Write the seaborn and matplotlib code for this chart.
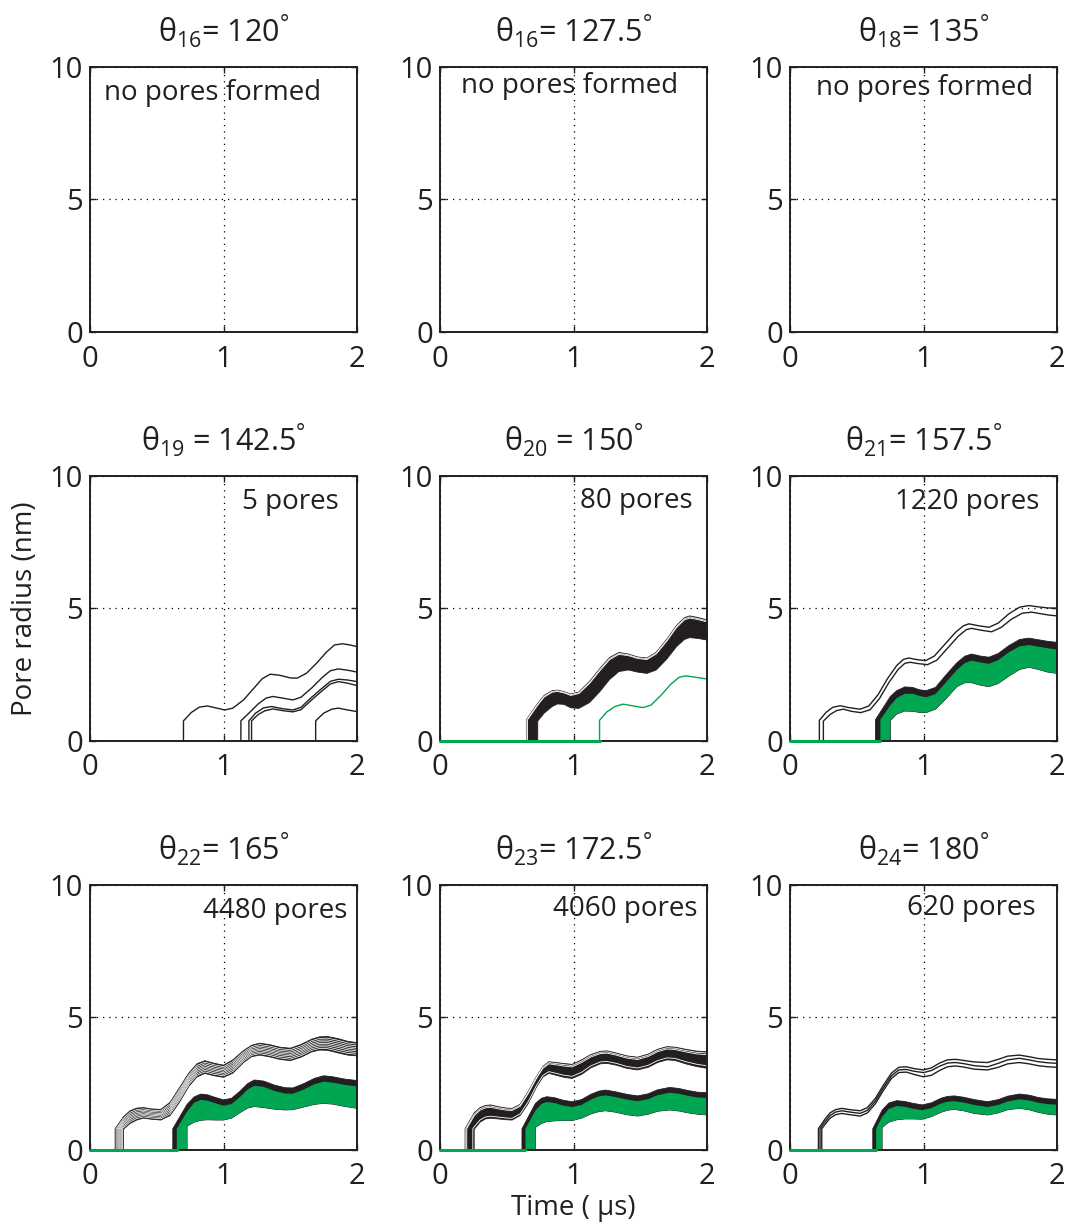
import matplotlib
matplotlib.use("Agg")
import matplotlib.pyplot as plt
import seaborn as sns

# ---- panel labels ----
theta_index = ["16", "16", "18", "19", "20", "21", "22", "23", "24"]
theta_deg = ["120", "127.5", "135", "142.5", "150", "157.5", "165", "172.5", "180"]
theta_gap = ["", "", "", " ", " ", "", "", "", ""]
pore_text = ["no pores formed", "no pores formed", "no pores formed",
             "5 pores", "80 pores", "1220 pores",
             "4480 pores", "4060 pores", "620 pores"]

# radius right after a pore opens (nm)
jump_r = 0.8

# ---- theta_19: five single pores (t starts at the opening time) ----
p19_lines = [
    ([0.70, 0.76, 0.82, 0.88, 0.95, 1.01, 1.07, 1.15, 1.22, 1.29, 1.35, 1.42, 1.50, 1.55, 1.62, 1.70, 1.77, 1.83, 1.89, 1.95, 2.0],
     [0.76, 1.08, 1.28, 1.32, 1.24, 1.17, 1.24, 1.55, 1.95, 2.35, 2.52, 2.48, 2.38, 2.37, 2.55, 2.95, 3.35, 3.62, 3.67, 3.62, 3.56]),
    ([1.13, 1.19, 1.26, 1.32, 1.37, 1.44, 1.52, 1.58, 1.66, 1.74, 1.80, 1.86, 1.93, 2.0],
     [0.76, 1.05, 1.40, 1.62, 1.68, 1.62, 1.55, 1.65, 2.00, 2.40, 2.65, 2.72, 2.67, 2.60]),
    ([1.19, 1.24, 1.30, 1.36, 1.44, 1.52, 1.58, 1.66, 1.74, 1.80, 1.86, 1.93, 2.0],
     [0.76, 1.05, 1.25, 1.30, 1.22, 1.17, 1.27, 1.65, 2.00, 2.25, 2.33, 2.30, 2.24]),
    ([1.21, 1.26, 1.31, 1.37, 1.45, 1.52, 1.58, 1.66, 1.74, 1.80, 1.86, 1.93, 2.0],
     [0.76, 1.00, 1.14, 1.21, 1.14, 1.10, 1.18, 1.55, 1.90, 2.15, 2.24, 2.18, 2.09]),
    ([1.69, 1.75, 1.81, 1.86, 1.93, 2.0],
     [0.76, 1.05, 1.20, 1.24, 1.17, 1.11]),
]

# ---- theta_20 ----
p20_band = dict(t0_top=0.647, t0_bot=0.732,
                t=[0.732, 0.78, 0.84, 0.88, 0.93, 0.98, 1.04, 1.12, 1.20, 1.27, 1.34, 1.41, 1.48, 1.55, 1.62, 1.70, 1.77, 1.83, 1.87, 1.93, 2.0],
                top=[1.42, 1.72, 1.90, 1.92, 1.86, 1.77, 1.85, 2.25, 2.75, 3.15, 3.34, 3.28, 3.17, 3.13, 3.35, 3.85, 4.35, 4.65, 4.72, 4.66, 4.57],
                bot=[0.75, 1.05, 1.30, 1.40, 1.38, 1.25, 1.23, 1.45, 1.88, 2.32, 2.62, 2.68, 2.60, 2.55, 2.68, 3.10, 3.55, 3.83, 3.90, 3.87, 3.81])
p20_green = ([1.195, 1.25, 1.31, 1.37, 1.44, 1.52, 1.58, 1.66, 1.73, 1.79, 1.84, 1.92, 2.0],
             [0.78, 1.10, 1.30, 1.39, 1.33, 1.26, 1.35, 1.75, 2.15, 2.40, 2.46, 2.40, 2.34])

# ---- theta_21 ----
p21_lines = [
    ([0.22, 0.27, 0.32, 0.376, 0.44, 0.526, 0.59, 0.66, 0.73, 0.80, 0.85, 0.89, 0.95, 1.015, 1.08, 1.16, 1.24, 1.30, 1.34, 1.41, 1.49, 1.56, 1.64, 1.72, 1.79, 1.86, 1.93, 2.0],
     [0.78, 1.08, 1.27, 1.33, 1.26, 1.20, 1.32, 1.75, 2.35, 2.85, 3.08, 3.13, 3.07, 3.03, 3.20, 3.65, 4.10, 4.35, 4.42, 4.35, 4.29, 4.45, 4.80, 5.05, 5.11, 5.06, 5.02, 5.01]),
    ([0.25, 0.30, 0.35, 0.40, 0.46, 0.53, 0.60, 0.67, 0.74, 0.81, 0.86, 0.90, 0.96, 1.03, 1.10, 1.18, 1.26, 1.32, 1.36, 1.43, 1.51, 1.58, 1.66, 1.74, 1.81, 1.88, 1.94, 2.0],
     [0.75, 1.00, 1.15, 1.20, 1.12, 1.07, 1.18, 1.60, 2.20, 2.70, 2.93, 2.97, 2.92, 2.88, 3.05, 3.50, 3.95, 4.20, 4.25, 4.18, 4.12, 4.28, 4.60, 4.82, 4.86, 4.80, 4.75, 4.72]),
]
p21_band = dict(t0_black=0.64, t0_green=0.677,
                t=[0.752, 0.80, 0.86, 0.92, 0.97, 1.02, 1.09, 1.17, 1.25, 1.31, 1.36, 1.43, 1.49, 1.56, 1.64, 1.72, 1.79, 1.86, 1.93, 2.0],
                black=[1.68, 1.90, 2.04, 2.02, 1.93, 1.90, 2.02, 2.50, 2.95, 3.20, 3.28, 3.20, 3.16, 3.30, 3.60, 3.83, 3.88, 3.82, 3.76, 3.72],
                gtop=[1.35, 1.62, 1.78, 1.78, 1.70, 1.65, 1.77, 2.22, 2.68, 2.94, 3.03, 2.96, 2.91, 3.05, 3.35, 3.57, 3.62, 3.56, 3.50, 3.45],
                gbot=[0.78, 1.02, 1.13, 1.12, 1.08, 1.07, 1.20, 1.60, 2.05, 2.20, 2.20, 2.10, 2.05, 2.17, 2.45, 2.70, 2.78, 2.70, 2.60, 2.55])

# ---- theta_22 ----
p22_band = dict(t0_top=0.188, t0_bot=0.25,
                t=[0.25, 0.30, 0.35, 0.40, 0.46, 0.53, 0.60, 0.67, 0.74, 0.80, 0.86, 0.93, 1.0, 1.07, 1.15, 1.21, 1.27, 1.34, 1.42, 1.50, 1.58, 1.66, 1.72, 1.78, 1.86, 1.93, 2.0],
                top=[1.25, 1.48, 1.58, 1.60, 1.55, 1.53, 1.80, 2.35, 2.90, 3.25, 3.37, 3.27, 3.20, 3.40, 3.75, 3.95, 4.03, 3.98, 3.88, 3.84, 3.98, 4.18, 4.27, 4.28, 4.20, 4.10, 4.05],
                bot=[0.78, 1.00, 1.13, 1.20, 1.16, 1.13, 1.30, 1.80, 2.40, 2.75, 2.89, 2.80, 2.74, 2.90, 3.30, 3.52, 3.58, 3.52, 3.42, 3.37, 3.50, 3.70, 3.77, 3.76, 3.66, 3.58, 3.55])
p22_gband = dict(t0_black=0.62, t0_green=0.65,
                 t=[0.727, 0.78, 0.83, 0.88, 0.94, 1.0, 1.06, 1.12, 1.18, 1.23, 1.30, 1.38, 1.46, 1.52, 1.60, 1.68, 1.75, 1.82, 1.90, 2.0],
                 black=[1.72, 2.00, 2.11, 2.08, 1.98, 1.89, 1.95, 2.20, 2.50, 2.64, 2.60, 2.45, 2.35, 2.34, 2.50, 2.70, 2.80, 2.76, 2.68, 2.62],
                 gtop=[1.45, 1.78, 1.89, 1.86, 1.76, 1.67, 1.73, 1.98, 2.28, 2.42, 2.38, 2.23, 2.13, 2.12, 2.28, 2.48, 2.58, 2.54, 2.46, 2.40],
                 gbot=[0.90, 1.05, 1.12, 1.14, 1.13, 1.13, 1.20, 1.40, 1.58, 1.64, 1.60, 1.54, 1.51, 1.52, 1.62, 1.72, 1.76, 1.73, 1.65, 1.57])

# ---- theta_23 ----
p23_band = dict(t0_top=0.188, t0_bot=0.256,
                t=[0.256, 0.30, 0.34, 0.38, 0.44, 0.50, 0.54, 0.60, 0.66, 0.72, 0.77, 0.815, 0.87, 0.93, 0.99, 1.06, 1.13, 1.20, 1.25, 1.32, 1.40, 1.48, 1.56, 1.63, 1.70, 1.76, 1.84, 1.92, 2.0],
                top=[1.40, 1.60, 1.68, 1.70, 1.63, 1.58, 1.57, 1.72, 2.20, 2.75, 3.15, 3.33, 3.30, 3.26, 3.23, 3.40, 3.60, 3.72, 3.74, 3.66, 3.55, 3.50, 3.62, 3.80, 3.90, 3.88, 3.80, 3.73, 3.71],
                bot=[0.78, 1.05, 1.17, 1.20, 1.17, 1.14, 1.13, 1.30, 1.75, 2.35, 2.75, 2.89, 2.82, 2.74, 2.70, 2.85, 3.10, 3.25, 3.27, 3.20, 3.08, 3.02, 3.12, 3.30, 3.40, 3.38, 3.25, 3.15, 3.08])
p23_gband = dict(t0_black=0.614, t0_green=0.64,
                 t=[0.714, 0.76, 0.80, 0.86, 0.92, 0.99, 1.06, 1.13, 1.19, 1.24, 1.31, 1.40, 1.48, 1.56, 1.63, 1.72, 1.79, 1.86, 1.93, 2.0],
                 black=[1.75, 1.95, 2.01, 1.97, 1.88, 1.82, 1.90, 2.10, 2.22, 2.26, 2.20, 2.10, 2.04, 2.12, 2.27, 2.36, 2.32, 2.24, 2.18, 2.16],
                 gtop=[1.48, 1.74, 1.81, 1.77, 1.68, 1.62, 1.70, 1.90, 2.02, 2.06, 2.00, 1.90, 1.84, 1.92, 2.07, 2.16, 2.12, 2.04, 1.98, 1.96],
                 gbot=[0.85, 1.00, 1.07, 1.10, 1.11, 1.11, 1.20, 1.36, 1.45, 1.48, 1.43, 1.33, 1.28, 1.35, 1.46, 1.51, 1.47, 1.40, 1.35, 1.32])

# ---- theta_24 ----
p24_t0 = [0.213, 0.225, 0.238]
p24_t = [0.26, 0.30, 0.34, 0.388, 0.45, 0.526, 0.58, 0.64, 0.70, 0.76, 0.815, 0.87, 0.93, 1.0,
         1.06, 1.12, 1.18, 1.24, 1.30, 1.38, 1.48, 1.56, 1.63, 1.717, 1.79, 1.86, 1.93, 2.0]
p24_r = [
    [1.15, 1.40, 1.52, 1.57, 1.52, 1.48, 1.60, 1.95, 2.45, 2.90, 3.12, 3.14, 3.07, 3.02, 3.10, 3.28, 3.40, 3.42, 3.38, 3.32, 3.30, 3.42, 3.54, 3.58, 3.52, 3.45, 3.42, 3.40],
    [1.05, 1.30, 1.43, 1.48, 1.43, 1.38, 1.50, 1.85, 2.35, 2.80, 3.02, 3.04, 2.97, 2.92, 3.00, 3.16, 3.28, 3.30, 3.26, 3.18, 3.14, 3.27, 3.40, 3.46, 3.40, 3.33, 3.29, 3.27],
    [0.95, 1.20, 1.33, 1.38, 1.33, 1.28, 1.40, 1.75, 2.25, 2.70, 2.92, 2.94, 2.85, 2.76, 2.82, 3.00, 3.14, 3.17, 3.13, 3.05, 3.02, 3.12, 3.25, 3.30, 3.25, 3.18, 3.14, 3.12],
]
p24_gband = dict(t0_black=0.62, t0_green=0.645,
                 t=[0.69, 0.74, 0.80, 0.86, 0.92, 0.99, 1.06, 1.13, 1.18, 1.23, 1.30, 1.38, 1.48, 1.56, 1.63, 1.717, 1.79, 1.86, 1.93, 2.0],
                 black=[1.50, 1.77, 1.86, 1.83, 1.76, 1.70, 1.78, 1.95, 2.02, 2.04, 1.99, 1.90, 1.82, 1.90, 2.03, 2.11, 2.07, 1.98, 1.93, 1.91],
                 gtop=[1.25, 1.55, 1.66, 1.63, 1.56, 1.50, 1.58, 1.75, 1.82, 1.84, 1.79, 1.70, 1.62, 1.70, 1.83, 1.91, 1.87, 1.78, 1.73, 1.71],
                 gbot=[0.85, 1.05, 1.14, 1.17, 1.17, 1.16, 1.26, 1.42, 1.50, 1.53, 1.48, 1.38, 1.32, 1.40, 1.52, 1.57, 1.52, 1.42, 1.35, 1.32])

# ---- styling ----
INK = "#231f20"
GREEN = "#00a651"

sns.set_theme(style="white")
plt.rcParams["font.family"] = ["Open Sans", "DejaVu Sans"]
plt.rcParams["mathtext.fontset"] = "custom"
plt.rcParams["mathtext.rm"] = "Open Sans"
plt.rcParams["text.color"] = INK
plt.rcParams["axes.labelcolor"] = INK
plt.rcParams["xtick.color"] = INK
plt.rcParams["ytick.color"] = INK
FS = 20        # annotation / axis labels
FS_TICK = 21
FS_TITLE = 22


def draw_line(ax, t, r, color=INK, lw=1.0):
    xs = [0, t[0]] + list(t)
    ys = [0, 0] + list(r)
    sns.lineplot(x=xs, y=ys, ax=ax, color=color, lw=lw, sort=False, estimator=None)


def draw_band(ax, b, stripes=(), stripe_color="white", fill=INK, stripe_lw=0.6):
    t, top, bot = b["t"], b["top"], b["bot"]
    xs = [b["t0_top"], b["t0_top"]] + t + t[::-1] + [t[0]]
    ys = [0, jump_r] + top + bot[::-1] + [0]
    ax.fill(xs, ys, color=fill, lw=0.6, ec=INK, zorder=2)
    for f in stripes:
        t0 = b["t0_top"] + f * (b["t0_bot"] - b["t0_top"])
        rr = [a + f * (c - a) for a, c in zip(top, bot)]
        ax.plot([t0, t0] + t, [0, jump_r] + rr, color=stripe_color, lw=stripe_lw, zorder=2.2)
    ax.plot([0, b["t0_top"]], [0, 0], color=INK, lw=1.2, zorder=3, clip_on=False)


def draw_green_band(ax, g):
    t = g["t"]
    xs = [g["t0_black"], g["t0_black"]] + t + t[::-1] + [t[0]]
    ys = [0, jump_r] + g["black"] + g["gbot"][::-1] + [0]
    ax.fill(xs, ys, color=INK, lw=0.6, zorder=2.3)
    xs = [g["t0_green"], g["t0_green"]] + t + t[::-1] + [t[0]]
    ys = [0, jump_r] + g["gtop"] + g["gbot"][::-1] + [0]
    ax.fill(xs, ys, color=GREEN, lw=0, zorder=2.4)
    ax.plot([0, g["t0_green"]], [0, 0], color=GREEN, lw=2.2, zorder=3, clip_on=False)


fig = plt.figure(figsize=(10.69, 12.26), dpi=100)
lefts = [0.0842, 0.4116, 0.739]
bottoms = [0.7292, 0.3956, 0.0620]
axes = []
for row in range(3):
    for col in range(3):
        axes.append(fig.add_axes([lefts[col], bottoms[row], 0.2498, 0.2162]))

# text placement for the pore count labels (data coords)
label_x = [0.92, 0.97, 1.01, 1.86, 1.89, 1.87, 1.93, 1.93, 1.84]
label_y = [9.0, 9.28, 9.2, 9.0, 9.06, 9.0, 9.0, 9.1, 9.13]

for i, ax in enumerate(axes):
    ax.set_xlim(0, 2)
    ax.set_ylim(0, 10)
    ax.set_xticks([0, 1, 2])
    ax.set_yticks([0, 5, 10])
    ax.tick_params(labelsize=FS_TICK, direction="in", length=4, width=1, top=True, right=True,
                   bottom=True, left=True, pad=5)
    ax.tick_params(axis="x", pad=9)
    ax.grid(True, color="black", ls=(0, (1, 4)), lw=0.9)
    for s in ax.spines.values():
        s.set_color(INK)
        s.set_linewidth(1.4)
    ax.set_title("θ$_{\\mathregular{%s}}$%s= %s$^{\\mathregular{°}}$" % (theta_index[i], theta_gap[i], theta_deg[i]),
                 fontsize=FS_TITLE, pad=17, color=INK)
    ha = "center" if i < 3 else "right"
    ax.text(label_x[i], label_y[i], pore_text[i], fontsize=FS, ha=ha, va="center", color=INK)

# theta_19
for t, r in p19_lines:
    draw_line(axes[3], t, r, lw=1.0)

# theta_20
draw_band(axes[4], p20_band, stripes=(0.05, 0.1))
draw_line(axes[4], p20_green[0], p20_green[1], color=GREEN, lw=1.0)
axes[4].plot([0, p20_green[0][0]], [0, 0], color=GREEN, lw=2.2, zorder=3, clip_on=False)

# theta_21
for t, r in p21_lines:
    draw_line(axes[5], t, r, lw=1.0)
draw_green_band(axes[5], p21_band)

# theta_22
draw_band(axes[6], p22_band, stripes=(0.12, 0.25, 0.38, 0.5, 0.62, 0.75, 0.88), stripe_lw=0.55)
draw_green_band(axes[6], p22_gband)

# theta_23
draw_band(axes[7], p23_band, stripes=(0.08, 0.18, 0.85))
draw_green_band(axes[7], p23_gband)

# theta_24
for t0, r in zip(p24_t0, p24_r):
    draw_line(axes[8], [t0] + p24_t, [jump_r] + r, lw=1.0)
draw_green_band(axes[8], p24_gband)

axes[3].set_ylabel("Pore radius (nm)", fontsize=FS, labelpad=8)
axes[7].set_xlabel("Time ( μs)", fontsize=FS, labelpad=2)

fig.savefig("out.png", dpi=100)
